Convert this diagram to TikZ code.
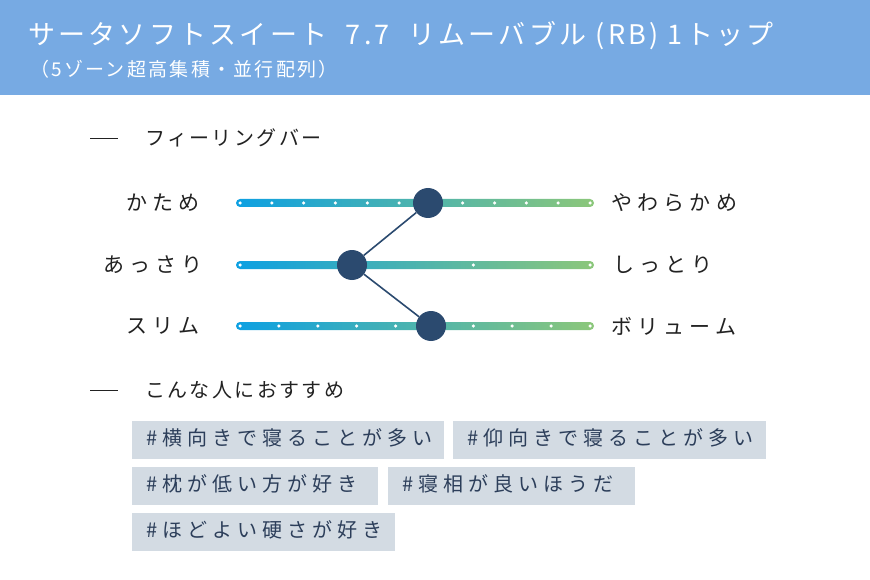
\documentclass[tikz,border=0pt]{standalone}
\usepackage{fontspec}
\newfontfamily\jp{Noto Sans CJK JP}
\newfontfamily\jpwide{Noto Sans CJK JP}[LetterSpace=25]
\newfontfamily\jpmid{Noto Sans CJK JP}[LetterSpace=12]
\begin{document}
\begin{tikzpicture}[x=1pt, y=-1pt,
    band/.style={fill=titleblue, draw=none},
    lbl/.style={font=\jpwide\fontsize{21}{21}\selectfont, text=labelgray, inner sep=0pt},
    head/.style={font=\jpmid\fontsize{20}{20}\selectfont, text=labelgray, inner sep=0pt, anchor=west},
    knob/.style={circle, minimum size=30pt, inner sep=0pt, fill=knobblue},
    pip/.style={circle, minimum size=3.5pt, inner sep=0pt, fill=white},
    tag/.style={fill=taggray, text=tagtext, font=\jpwide\fontsize{20}{20}\selectfont, anchor=north west, inner xsep=14pt, inner ysep=0pt, align=left, minimum height=38pt, text height=15pt, text depth=4pt}
]
    \definecolor{titleblue}{HTML}{77AAE3}
    \definecolor{labelgray}{HTML}{222222}
    \definecolor{knobblue}{HTML}{2B4A6F}
    \definecolor{taggray}{HTML}{D3DBE3}
    \definecolor{tagtext}{HTML}{2C3E5A}
    \definecolor{barleft}{HTML}{0DA0E2}
    \definecolor{barright}{HTML}{8CC77A}
    \useasboundingbox (0,0) rectangle (870,580);
    \fill[band] (0,0) rectangle (870,95);
    \node[anchor=west, text=white, inner sep=0pt, font=\jpmid\fontsize{27}{27}\selectfont] (title) at (28,36) {サータソフトスイート\ \ 7.7\ \ リムーバブル (RB) 1トップ};
    \node[anchor=west, text=white, inner sep=0pt, font=\jpmid\fontsize{19}{19}\selectfont] (sub) at (30,69) {（5ゾーン超高集積・並行配列）};

    \draw[labelgray, line width=0.8pt] (90,138) -- (118,138);
    \node[head] (feel) at (145,138) {フィーリングバー};

    % bars
    \foreach \y/\n in {203/11, 265/3, 326/9} {
        \shade[left color=barleft, right color=barright, rounded corners=4pt]
            (236,\y-4) rectangle (594,\y+4);
        \foreach \k in {0,...,\n}
            \node[pip] at ({240+350*\k/\n},\y) {};
    }
    \node[knob] (k1) at (428,203) {};
    \node[knob] (k2) at (352,265) {};
    \node[knob] (k3) at (431,326) {};
    \draw[knobblue, line width=1.6pt] (k1) -- (k2) -- (k3);

    \node[lbl, anchor=east] (l1) at (200,203) {かため};
    \node[lbl, anchor=east] (l2) at (203,265) {あっさり};
    \node[lbl, anchor=east] (l3) at (200,326) {スリム};
    \node[lbl, anchor=west] (r1) at (611,203) {やわらかめ};
    \node[lbl, anchor=west] (r2) at (613,265) {しっとり};
    \node[lbl, anchor=west] (r3) at (611,326) {ボリューム};

    \draw[labelgray, line width=0.8pt] (90,390) -- (118,390);
    \node[head] (rec) at (145,390) {こんな人におすすめ};

    \node[tag, text width=284pt] (t1) at (132,421) {\#横向きで寝ることが多い};
    \node[tag, text width=285pt] (t2) at (453,421) {\#仰向きで寝ることが多い};
    \node[tag, text width=218pt] (t3) at (132,467) {\#枕が低い方が好き};
    \node[tag, text width=219pt] (t4) at (388,467) {\#寝相が良いほうだ};
    \node[tag, text width=235pt] (t5) at (132,513) {\#ほどよい硬さが好き};
\end{tikzpicture}
\end{document}
